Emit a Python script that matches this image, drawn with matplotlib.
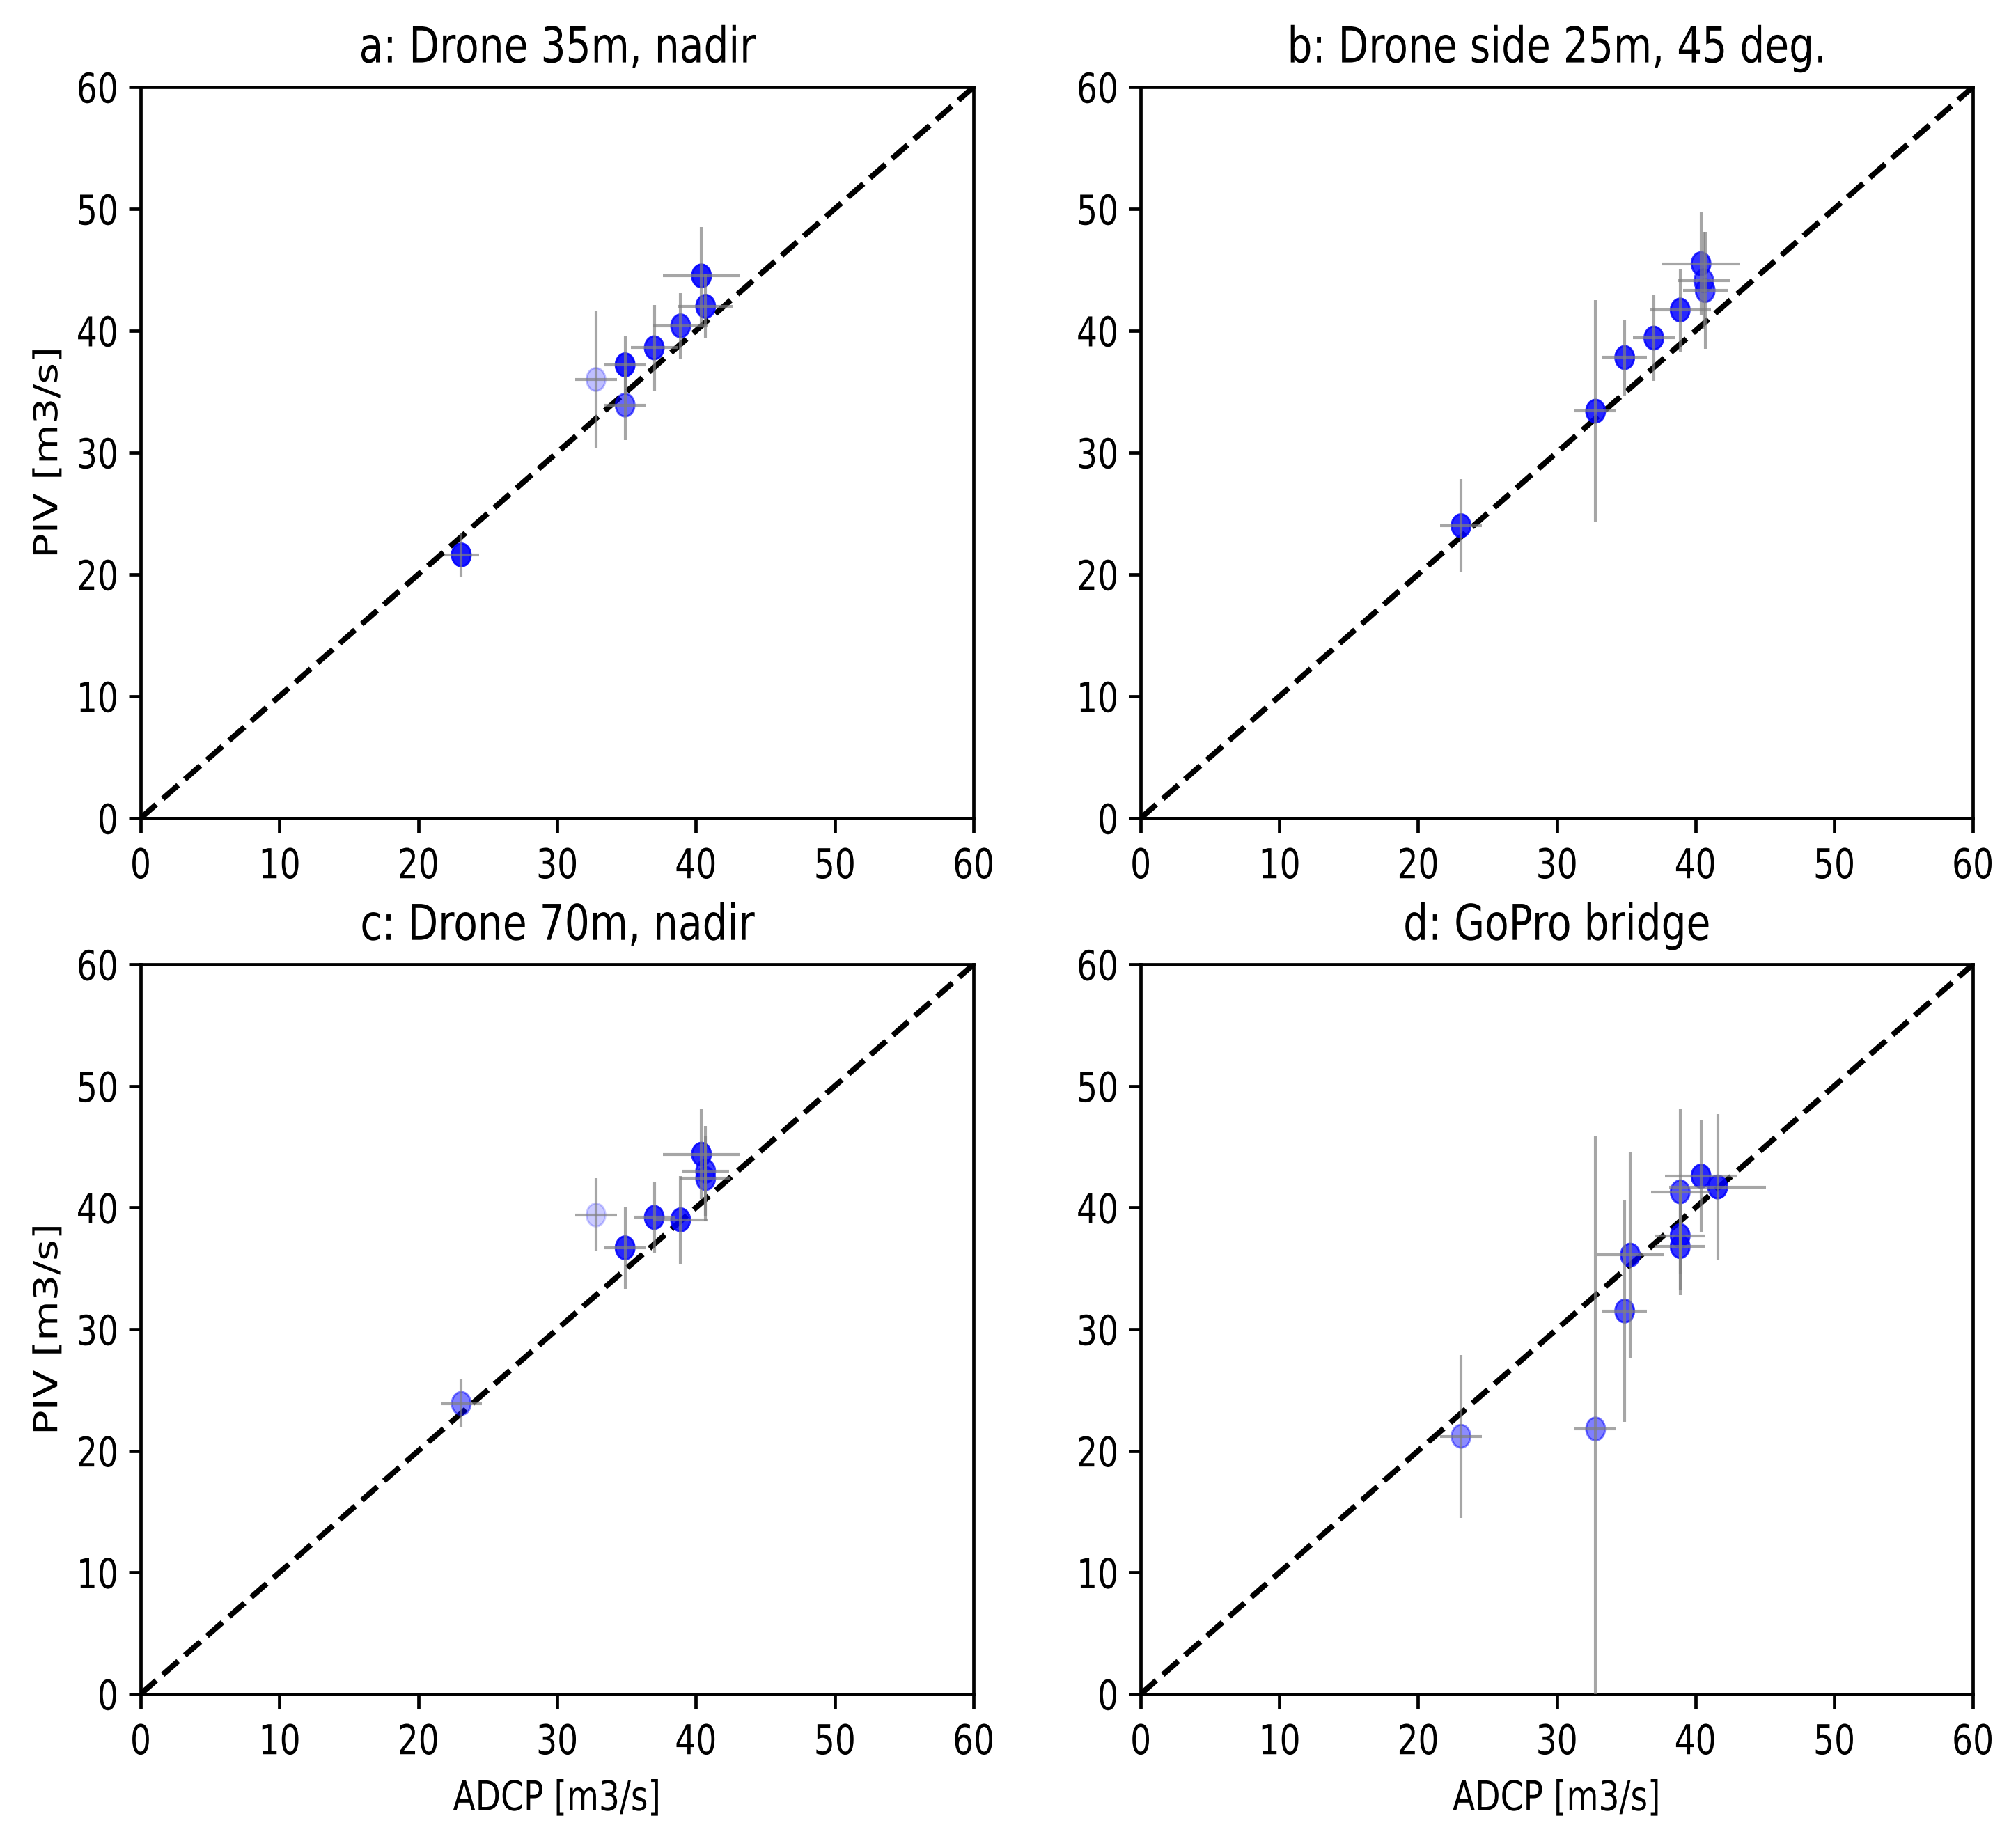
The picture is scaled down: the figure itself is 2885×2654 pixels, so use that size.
import matplotlib
matplotlib.use("Agg")
import matplotlib.pyplot as plt
from matplotlib.markers import MarkerStyle
from matplotlib.patheffects import AbstractPathEffect
from matplotlib.transforms import Affine2D

# ADCP (x) vs PIV (y) discharges with uncertainties, one set per camera setup
titles = ['a: Drone 35m, nadir', 'b: Drone side 25m, 45 deg.',
          'c: Drone 70m, nadir', 'd: GoPro bridge']

adcp_a = [23.1, 32.8, 34.9, 34.9, 37.0, 38.9, 40.4, 40.7]
adcp_err_a = [1.3, 1.5, 1.5, 1.5, 1.7, 2.0, 2.8, 2.0]
piv_a = [21.6, 36.0, 37.2, 33.9, 38.6, 40.4, 44.5, 42.0]
piv_err_a = [1.8, 5.6, 2.4, 2.9, 3.5, 2.7, 4.0, 2.6]
alpha_a = [0.9, 0.25, 0.9, 0.6, 0.85, 0.8, 0.9, 0.85]

adcp_b = [23.1, 32.8, 34.9, 37.0, 38.9, 40.4, 40.6, 40.7]
adcp_err_b = [1.5, 1.5, 1.6, 1.5, 2.2, 2.8, 1.9, 1.6]
piv_b = [24.0, 33.4, 37.8, 39.4, 41.7, 45.5, 44.1, 43.3]
piv_err_b = [3.8, 9.1, 3.1, 3.5, 3.4, 4.2, 4.0, 4.8]
alpha_b = [0.85, 0.85, 0.85, 0.85, 0.85, 0.8, 0.7, 0.7]

adcp_c = [23.1, 32.8, 34.9, 37.0, 38.9, 40.4, 40.7, 40.7]
adcp_err_c = [1.5, 1.5, 1.5, 1.5, 2.0, 2.8, 1.7, 1.8]
piv_c = [23.9, 39.4, 36.7, 39.2, 39.0, 44.4, 43.0, 42.4]
piv_err_c = [2.0, 3.0, 3.4, 2.9, 3.6, 3.7, 3.7, 3.5]
alpha_c = [0.5, 0.2, 0.85, 0.85, 0.85, 0.85, 0.75, 0.75]

adcp_d = [23.1, 32.8, 34.9, 35.3, 38.9, 38.9, 38.9, 40.4, 41.6]
adcp_err_d = [1.5, 1.5, 1.6, 2.4, 2.1, 1.8, 1.8, 2.6, 3.5]
piv_d = [21.2, 21.8, 31.5, 36.1, 41.3, 37.7, 36.8, 42.6, 41.7]
piv_err_d = [6.7, 24.1, 9.1, 8.5, 6.8, 4.5, 4.0, 4.6, 6.0]
alpha_d = [0.45, 0.5, 0.7, 0.75, 0.7, 0.8, 0.8, 0.85, 0.85]

panels = [
    (adcp_a, adcp_err_a, piv_a, piv_err_a, alpha_a),
    (adcp_b, adcp_err_b, piv_b, piv_err_b, alpha_b),
    (adcp_c, adcp_err_c, piv_c, piv_err_c, alpha_c),
    (adcp_d, adcp_err_d, piv_d, piv_err_d, alpha_d),
]

ticks = [0, 10, 20, 30, 40, 50, 60]


class Squeeze(AbstractPathEffect):
    """Narrow text horizontally (on screen), keeping its centre or right edge."""

    def __init__(self, sx, anchor='center'):
        super().__init__()
        self.sx = sx
        self.anchor = anchor

    def draw_path(self, renderer, gc, tpath, affine, rgbFace=None):
        ext = tpath.transformed(affine).get_extents()
        cx = ext.x1 if self.anchor == 'right' else 0.5 * (ext.x0 + ext.x1)
        squeeze = Affine2D().translate(-cx, 0).scale(self.sx, 1).translate(cx, 0)
        renderer.draw_path(gc, tpath, affine + squeeze, rgbFace)


plt.rcParams['font.family'] = ['DejaVu Sans']
plt.rcParams['ytick.major.size'] = 2.8
plt.rcParams['ytick.major.pad'] = 2.5

fig = plt.figure(figsize=(2885 / 425, 2654 / 425), dpi=425)

rects = [
    [0.0700, 0.5573, 0.4146, 0.3956],
    [0.5678, 0.5573, 0.4142, 0.3956],
    [0.0700, 0.0833, 0.4146, 0.3948],
    [0.5678, 0.0833, 0.4142, 0.3948],
]

# the reference is squeezed horizontally: oval markers, narrow text
oval = MarkerStyle('o', transform=Affine2D().scale(0.82, 1.0))
narrow = [Squeeze(0.8)]
narrow_right = [Squeeze(0.8, 'right')]

for i, (x, xe, y, ye, al) in enumerate(panels):
    ax = fig.add_axes(rects[i])
    ax.plot([0, 60], [0, 60], 'k--', lw=1.35, zorder=1)
    ax.scatter(x, y, s=31, marker=oval, c='blue', edgecolors='blue',
               linewidths=0.5, alpha=al, zorder=2)
    ax.errorbar(x, y, xerr=xe, yerr=ye, fmt='none', ecolor='grey',
                elinewidth=0.7, alpha=0.7, zorder=3)
    ax.set_xlim(0, 60)
    ax.set_ylim(0, 60)
    ax.set_xticks(ticks)
    ax.set_yticks(ticks)
    texts = [ax.set_title(titles[i], fontsize=12)]
    if i % 2 == 0:
        texts.append(ax.set_ylabel('PIV [m3/s]', fontsize=10))
        ax.yaxis.set_label_coords(-0.087, 0.5)
    if i >= 2:
        texts.append(ax.set_xlabel('ADCP [m3/s]', fontsize=10))
    texts += ax.get_xticklabels()
    for t in texts:
        t.set_path_effects(narrow)
    for t in ax.get_yticklabels():
        t.set_path_effects(narrow_right)

fig.savefig('out.png', dpi=425)
